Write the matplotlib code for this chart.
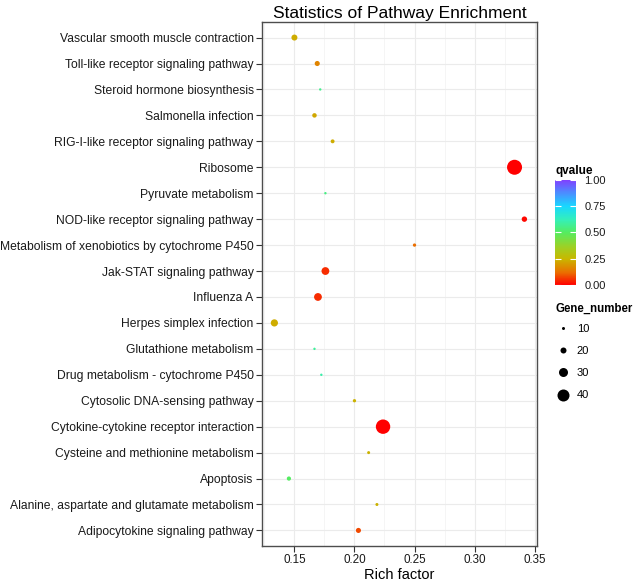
import matplotlib
matplotlib.use("Agg")
import matplotlib.pyplot as plt
from matplotlib.colors import LinearSegmentedColormap, Normalize
from matplotlib.lines import Line2D
import matplotlib.cm as cm

plt.rcParams['font.family'] = ['Liberation Sans', 'DejaVu Sans']

# pathways listed top to bottom as in the chart
pathways = [
    "Vascular smooth muscle contraction",
    "Toll-like receptor signaling pathway",
    "Steroid hormone biosynthesis",
    "Salmonella infection",
    "RIG-I-like receptor signaling pathway",
    "Ribosome",
    "Pyruvate metabolism",
    "NOD-like receptor signaling pathway",
    "Metabolism of xenobiotics by cytochrome P450",
    "Jak-STAT signaling pathway",
    "Influenza A",
    "Herpes simplex infection",
    "Glutathione metabolism",
    "Drug metabolism - cytochrome P450",
    "Cytosolic DNA-sensing pathway",
    "Cytokine-cytokine receptor interaction",
    "Cysteine and methionine metabolism",
    "Apoptosis",
    "Alanine, aspartate and glutamate metabolism",
    "Adipocytokine signaling pathway",
]
rich_factor = [0.150, 0.169, 0.1715, 0.1667, 0.1818, 0.3333, 0.1758, 0.3415, 0.250, 0.1758,
               0.1696, 0.1333, 0.1667, 0.1724, 0.200, 0.2238, 0.2118, 0.1454, 0.2187, 0.2033]
gene_number = [20, 17, 8, 15, 13, 50, 8, 18, 11, 26,
               26, 24, 8, 8, 11, 48, 10, 14, 10, 17]
qvalue = [0.23, 0.16, 0.56, 0.22, 0.23, 0.0, 0.55, 0.01, 0.12, 0.05,
          0.05, 0.23, 0.58, 0.60, 0.24, 0.0, 0.24, 0.50, 0.24, 0.08]

size_legend = [10, 20, 30, 40]
q_ticks = [0.0, 0.25, 0.5, 0.75, 1.0]

cmap = LinearSegmentedColormap.from_list("qv", [
    (0.0, '#FF0000'), (0.12, '#EA7000'), (0.25, '#C8B800'), (0.37, '#9AD228'),
    (0.5, '#55EC60'), (0.62, '#35F0B8'), (0.75, '#18D8FF'), (0.88, '#4C8CFF'),
    (1.0, '#8040FF')])
norm = Normalize(0, 1)

def marker_diam(g):
    # diameter in points
    return 0.216 * g

W, H = 634, 581
fig = plt.figure(figsize=(W / 100, H / 100), dpi=100)
ax = fig.add_axes([262 / W, 1 - 546 / H, (537 - 262) / W, (546 - 22) / H])

n = len(pathways)
ypos = [n - i for i in range(n)]
ax.scatter(rich_factor, ypos, s=[marker_diam(g) ** 2 for g in gene_number],
           c=qvalue, cmap=cmap, norm=norm, linewidths=0, zorder=3)

ax.set_xlim(0.123, 0.352)
ax.set_ylim(0.4, n + 0.6)
ax.set_yticks(ypos)
ax.set_yticklabels(pathways, fontsize=8.7, color='#1a1a1a')
ax.set_xticks([0.15, 0.20, 0.25, 0.30, 0.35])
ax.set_xticklabels(['0.15', '0.20', '0.25', '0.30', '0.35'], fontsize=8.4, color='#1a1a1a')
ax.set_xticks([0.125, 0.175, 0.225, 0.275, 0.325], minor=True)
ax.tick_params(which='major', length=4, width=0.8, color='#333333', pad=2)
ax.tick_params(which='minor', length=0)
ax.grid(True, which='major', color='#EBEBEB', linewidth=0.8, zorder=0)
ax.grid(True, which='minor', axis='x', color='#F2F2F2', linewidth=0.5, zorder=0)
ax.set_axisbelow(True)
for sp in ax.spines.values():
    sp.set_color('#4d4d4d')
    sp.set_linewidth(1.0)

ax.set_xlabel('Rich factor', fontsize=10.5, labelpad=1)
ax.set_title('Statistics of Pathway Enrichment', fontsize=12.5, pad=3)

# qvalue colourbar
cax = fig.add_axes([555 / W, 1 - 285 / H, 21 / W, 105 / H])
sm = cm.ScalarMappable(norm=norm, cmap=cmap)
cb = fig.colorbar(sm, cax=cax)
cb.outline.set_visible(False)
cb.set_ticks(q_ticks)
cb.set_ticklabels(['%.2f' % q for q in q_ticks])
cax.tick_params(direction='in', left=True, right=True, color='white',
                length=4, width=0.8, pad=6, labelsize=8, labelcolor='#1a1a1a')
fig.text(555 / W, 1 - 171 / H, 'qvalue', fontsize=8.5, fontweight='bold', va='center')

# Gene_number legend
fig.text(555 / W, 1 - 309 / H, 'Gene_number', fontsize=8.3, fontweight='bold', va='center')
handles = [Line2D([], [], linestyle='none', marker='o', markersize=marker_diam(g),
                  markerfacecolor='black', markeredgewidth=0) for g in size_legend]
leg = fig.legend(handles, [str(g) for g in size_legend], loc='upper left',
                 bbox_to_anchor=(549 / W, 1 - 316 / H), frameon=False,
                 fontsize=8, labelspacing=1.1, handlelength=1.2, handletextpad=0.6,
                 borderpad=0.2)

fig.savefig('out.png', dpi=100)
